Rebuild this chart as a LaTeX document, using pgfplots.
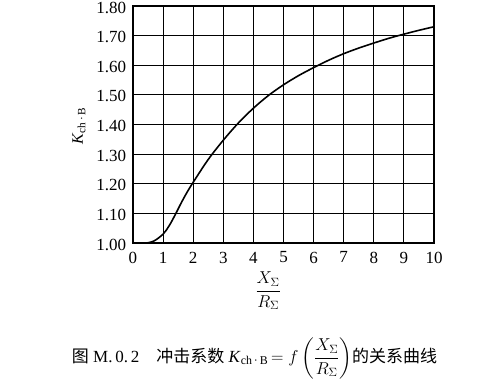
\documentclass[border=0pt]{standalone}
\usepackage{amsmath}
\usepackage{fontspec}
\setmainfont{Liberation Serif}
\newfontfamily\cjk{Noto Sans CJK SC}
\usepackage{pgfplots}
\pgfplotsset{compat=1.18}
\begin{document}
\fontsize{17bp}{20bp}\selectfont
\begin{tikzpicture}
\begin{axis}[
  scale only axis,
  width=301bp, height=237bp,
  xmin=0, xmax=10, ymin=1.0, ymax=1.8,
  xtick={0,1,...,10},
  ytick={1.0,1.1,1.2,1.3,1.4,1.5,1.6,1.7,1.8},
  grid=major,
  major grid style={black, line width=0.9pt},
  axis line style={black, line width=1.1pt},
  major tick length=0pt,
  /pgf/number format/assume math mode=true,
  yticklabel style={/pgf/number format/fixed, /pgf/number format/fixed zerofill, /pgf/number format/precision=2, xshift=-1bp, yshift=-1.5bp},
  xticklabel style={yshift=-3bp},
  ticklabel style={font=\fontsize{17bp}{20bp}\selectfont},
  xlabel={$\dfrac{X_\Sigma}{R_\Sigma}$},
  xlabel style={at={([yshift=-48bp]axis description cs:0.449,0)}, anchor=center, font=\fontsize{17bp}{20bp}\selectfont},
  ylabel={\textit{K}\textsubscript{ch\,·\,B}},
  ylabel style={at={([xshift=-54bp]axis description cs:0,0.494)}, anchor=center, font=\fontsize{16bp}{18bp}\selectfont},
]
\addplot[black, line width=1.6pt, smooth, tension=0.55] coordinates {
(0.45,1.000) (0.7,1.007) (1.0,1.030) (1.2,1.058) (1.4,1.095) (1.6,1.135)
(1.8,1.172) (2.0,1.205) (2.5,1.282) (3.0,1.347) (3.5,1.405) (4.0,1.455)
(4.5,1.498) (5.0,1.534) (5.5,1.565) (6.0,1.592) (6.5,1.617) (7.0,1.639)
(7.5,1.658) (8.0,1.675) (8.5,1.691) (9.0,1.705) (9.5,1.718) (10.0,1.730)
};
\end{axis}
\node[anchor=center, font=\fontsize{17bp}{20bp}\selectfont] at (121.5bp,-115bp)
  {{\cjk 图} M.\,0.\,2\quad{\cjk 冲击系数} \textit{K}\textsubscript{ch\,·\,B}$\,=f\left(\dfrac{X_\Sigma}{R_\Sigma}\right)${\cjk 的关系曲线}};
\pgfresetboundingbox
\path[use as bounding box] (-133bp,-139bp) rectangle (367bp,243bp);
\end{tikzpicture}
\end{document}
